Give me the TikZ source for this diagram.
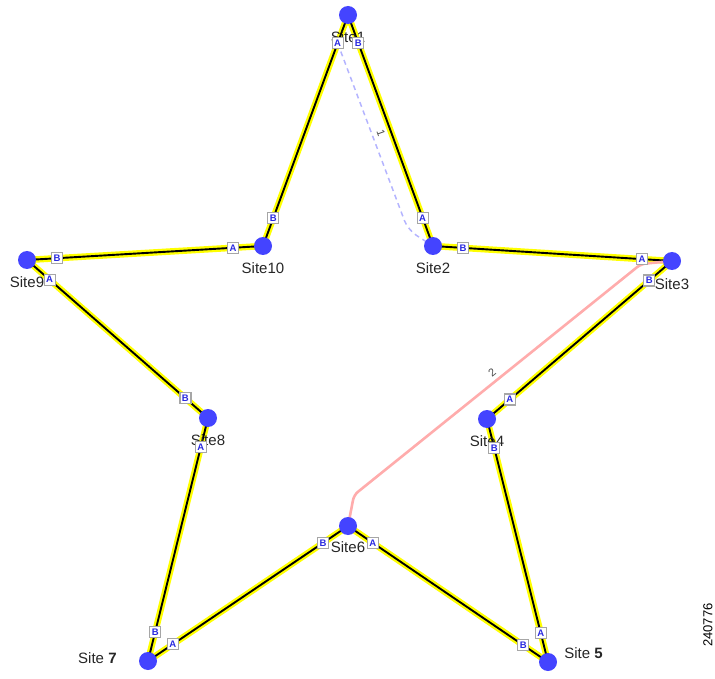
\documentclass[tikz,border=0pt]{standalone}
\usepackage{fontspec}
\setmainfont{Liberation Sans}
\usetikzlibrary{calc, positioning}
\definecolor{siteblue}{HTML}{4444FF}
\definecolor{tagblue}{HTML}{2A2AE0}
\definecolor{fibery}{HTML}{FFFF00}
\definecolor{pathone}{HTML}{B4B4FF}
\definecolor{pathtwo}{HTML}{FFACAC}
\pgfdeclarelayer{background}
\pgfsetlayers{background,main}
\newcommand{\sitenode}[4]{%
  \node[sitedot] (#1) at #2 {};
  \node[sitename, #4] (#1l) {#3};
}
\newcommand{\fiberlink}[2]{%
  \begin{pgfonlayer}{background}
    \draw[fiber] (#1.center) -- (#2.center);
  \end{pgfonlayer}
  \node[endtag] (#1#2b) at ($(#1.center)!30pt!(#2.center)$) {B};
  \node[endtag] (#1#2a) at ($(#2.center)!30pt!(#1.center)$) {A};
}

\begin{document}
\begin{tikzpicture}[x=1pt, y=-1pt,
    sitedot/.style={circle, fill=siteblue, minimum size=18pt, inner sep=0pt},
    sitename/.style={inner sep=0pt, text=black!85,
                     font=\fontsize{15}{18}\selectfont},
    endtag/.style={draw=black!35, fill=white, line width=1.2pt,
                   minimum size=11pt, inner sep=0pt, text=tagblue,
                   font=\fontsize{9.5}{9.5}\selectfont\bfseries},
    fiber/.style={draw=black, line width=1.9pt,
                  preaction={draw=fibery, line width=6.5pt}},
    pathnum/.style={inner sep=0pt, text=black!70,
                    font=\fontsize{11}{11}\selectfont}]
    \useasboundingbox (0,0) rectangle (715,679);
    % sites
    \sitenode{s1}{(348,15)}{Site1}{below=7pt of s1}
    \sitenode{s2}{(433,246)}{Site2}{below=7pt of s2}
    \sitenode{s3}{(672,261)}{Site3}{below=8pt of s3}
    \sitenode{s4}{(487,419)}{Site4}{below=7pt of s4}
    \sitenode{s5}{(548,662)}{Site \textbf{5}}{right=7pt of s5, yshift=9pt}
    \sitenode{s6}{(348,526)}{Site6}{below=6pt of s6}
    \sitenode{s7}{(148,661)}{Site \textbf{7}}{left=22pt of s7, yshift=3pt}
    \sitenode{s8}{(208,418)}{Site8}{below=7pt of s8}
    \sitenode{s9}{(27,260)}{Site9}{below=7pt of s9}
    \sitenode{s10}{(263,246)}{Site10}{below=7pt of s10}
    % ring
    \fiberlink{s1}{s2}
    \fiberlink{s2}{s3}
    \fiberlink{s3}{s4}
    \fiberlink{s4}{s5}
    \fiberlink{s5}{s6}
    \fiberlink{s6}{s7}
    \fiberlink{s7}{s8}
    \fiberlink{s8}{s9}
    \fiberlink{s9}{s10}
    \fiberlink{s10}{s1}
    % circuits 1 and 2
    \begin{pgfonlayer}{background}
      \draw[pathone, line width=1.5pt, dash pattern=on 5pt off 4pt,
            rounded corners=10pt]
        (s10s1a.center) -- (408,230) -- (s2.center);
      \draw[pathtwo, line width=2.6pt, rounded corners=5pt]
        (s3.center) -- (641,264) -- (354,495) -- (s6.center);
    \end{pgfonlayer}
    \node[pathnum, rotate=-70] (p1) at (381,133) {1};
    \node[pathnum, rotate=39] (p2) at (492,373) {2};
    \node[rotate=90, inner sep=0pt, font=\fontsize{13}{13}\selectfont]
      (figid) at (708,625) {240776};
\end{tikzpicture}
\end{document}
